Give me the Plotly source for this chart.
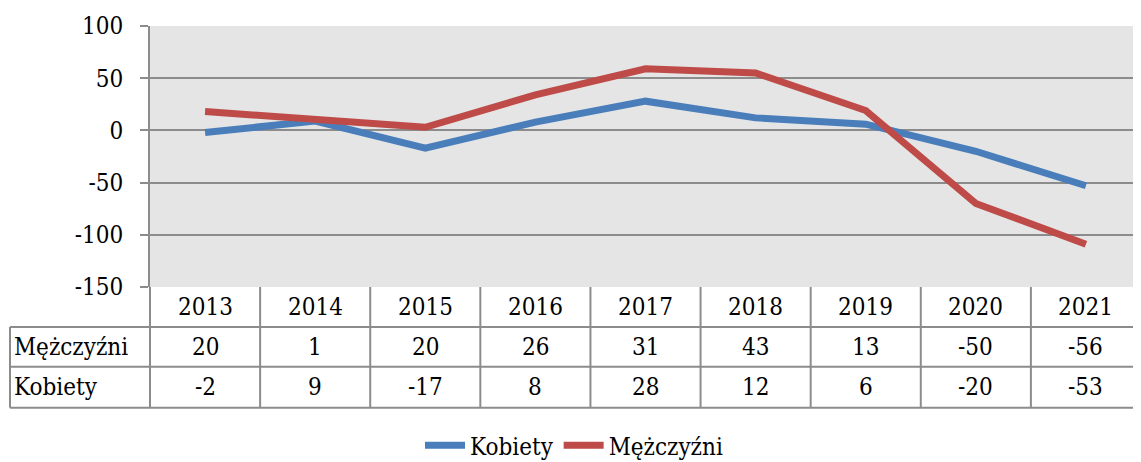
import plotly.graph_objects as go

years = ["2013", "2014", "2015", "2016", "2017", "2018", "2019", "2020", "2021"]
kobiety = [-2, 9, -17, 8, 28, 12, 6, -20, -53]
mezczyzni = [20, 1, 20, 26, 31, 43, 13, -50, -56]
series_names = ["Kobiety", "Mężczyźni"]
colors = ["#4A7EBB", "#BE4B48"]
y_ticks = [100, 50, 0, -50, -100, -150]
y_tick_labels = ["100", "50", "0", "-50", "-100", "-150"]

FONT = "DejaVu Serif Condensed, DejaVu Serif, Liberation Serif, serif"
FS = 24
GRID = "#8c8c8c"

OFF = 8  # page body margin
W, H = 1141 - OFF, 462 - OFF
L, T = 150 - OFF, 25.5 - OFF
B = H - (287 - OFF)
R = 0
ph = H - T - B
pw = W - L - R

def py(p):
    return ((H - B) - (p - OFF)) / ph

def px(p):
    return ((p - OFF) - L) / pw

fig = go.Figure()
fig.add_trace(go.Scatter(x=list(range(len(years))), y=kobiety, name=series_names[0],
                         mode="lines", stackgroup="one", fill="none",
                         line=dict(color=colors[0], width=7)))
fig.add_trace(go.Scatter(x=list(range(len(years))), y=mezczyzni, name=series_names[1],
                         mode="lines", stackgroup="one", fill="none",
                         line=dict(color=colors[1], width=7)))

shapes = []
annotations = []
row_tops = [287, 327, 367, 408]
lw = 2
for yy in row_tops[1:]:
    shapes.append(dict(type="line", xref="paper", yref="paper", x0=px(10), x1=1,
                       y0=py(yy), y1=py(yy), line=dict(color=GRID, width=lw)))
shapes.append(dict(type="line", xref="paper", yref="paper", x0=px(10), x1=px(10),
                   y0=py(327), y1=py(408), line=dict(color=GRID, width=lw)))
n = len(years)
for k in range(n + 1):
    xp = k / n
    shapes.append(dict(type="line", xref="paper", yref="paper", x0=xp, x1=xp,
                       y0=0, y1=py(408), line=dict(color=GRID, width=lw)))

rows = [(years, None), (mezczyzni, series_names[1]), (kobiety, series_names[0])]
for r, (vals, label) in enumerate(rows):
    yc = py((row_tops[r] + row_tops[r + 1]) / 2)
    for i, v in enumerate(vals):
        annotations.append(dict(x=i, y=yc, xref="x", yref="paper", text=str(v),
                                showarrow=False, font=dict(family=FONT, size=FS, color="black"),
                                xanchor="center", yanchor="middle"))
    if label:
        annotations.append(dict(x=px(12), y=yc, xref="paper", yref="paper", text=label,
                                showarrow=False, font=dict(family=FONT, size=FS, color="black"),
                                xanchor="left", yanchor="middle"))

fig.update_layout(
    width=W, height=H,
    margin=dict(l=L, r=R, t=T, b=B, pad=0, autoexpand=False),
    paper_bgcolor="white",
    plot_bgcolor="#e5e5e5",
    font=dict(family=FONT, size=FS, color="black"),
    showlegend=True,
    legend=dict(orientation="h", x=px(574), xanchor="center", y=py(446), yanchor="middle",
                traceorder="normal", font=dict(family=FONT, size=FS), itemwidth=40,
                bgcolor="rgba(0,0,0,0)"),
    xaxis=dict(range=[-0.5, n - 0.5], showticklabels=False, showgrid=False,
               zeroline=False, showline=False, fixedrange=True),
    yaxis=dict(range=[-150, 100], tickvals=y_ticks, ticktext=y_tick_labels,
               showgrid=True, gridcolor=GRID,
               gridwidth=2, zeroline=False, showline=True, linecolor=GRID, linewidth=2,
               ticks="outside", ticklen=8, tickwidth=2, tickcolor=GRID,
               ticklabelstandoff=12,
               tickfont=dict(family=FONT, size=FS, color="black")),
    shapes=shapes,
    annotations=annotations,
)

fig.write_html("out.html")
